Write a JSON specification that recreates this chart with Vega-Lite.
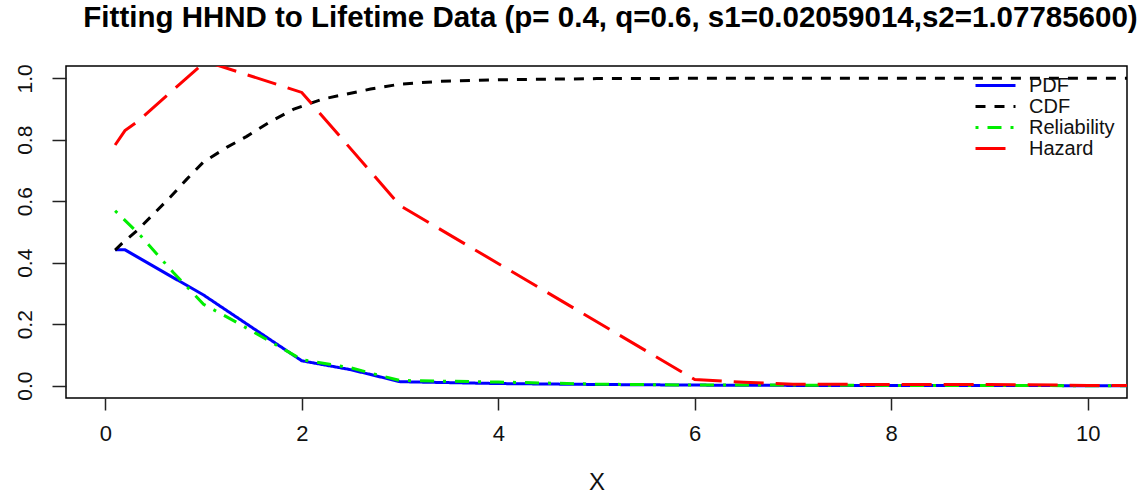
{
  "$schema": "https://vega.github.io/schema/vega-lite/v6.json",
  "width": 1061,
  "height": 332,
  "autosize": {"type": "none"},
  "padding": {"left": 66, "top": 66, "right": 11, "bottom": 96},
  "background": "white",
  "title": {
    "text": "Fitting HHND to Lifetime Data (p= 0.4, q=0.6, s1=0.02059014,s2=1.07785600)",
    "font": "Liberation Sans",
    "fontSize": 29.5,
    "fontWeight": "bold",
    "color": "black",
    "anchor": "middle",
    "frame": "group",
    "dx": 14,
    "offset": 30
  },
  "config": {
    "view": {"stroke": "black", "strokeWidth": 1.5},
    "axis": {
      "grid": false,
      "domain": false,
      "tickColor": "#222",
      "tickWidth": 1.5,
      "labelColor": "#111",
      "labelFont": "Liberation Sans",
      "titleFont": "Liberation Sans",
      "titleColor": "#111",
      "titleFontWeight": "normal"
    }
  },
  "data": {
    "values": [
      {"s": "PDF", "x": 0.1, "y": 0.442},
      {"s": "PDF", "x": 0.2, "y": 0.442},
      {"s": "PDF", "x": 1.0, "y": 0.295},
      {"s": "PDF", "x": 2.0, "y": 0.081},
      {"s": "PDF", "x": 2.5, "y": 0.052},
      {"s": "PDF", "x": 3.0, "y": 0.013},
      {"s": "PDF", "x": 4.0, "y": 0.007},
      {"s": "PDF", "x": 5.0, "y": 0.004},
      {"s": "PDF", "x": 6.0, "y": 0.002},
      {"s": "PDF", "x": 7.0, "y": 0.001},
      {"s": "PDF", "x": 8.0, "y": 0.001},
      {"s": "PDF", "x": 9.0, "y": 0.001},
      {"s": "PDF", "x": 10.0, "y": 0.0},
      {"s": "PDF", "x": 10.4, "y": 0.0},
      {"s": "CDF", "x": 0.1, "y": 0.441},
      {"s": "CDF", "x": 0.17, "y": 0.463},
      {"s": "CDF", "x": 0.32, "y": 0.504},
      {"s": "CDF", "x": 0.49, "y": 0.558},
      {"s": "CDF", "x": 0.66, "y": 0.613},
      {"s": "CDF", "x": 0.83, "y": 0.672},
      {"s": "CDF", "x": 1.0, "y": 0.728},
      {"s": "CDF", "x": 1.24, "y": 0.776},
      {"s": "CDF", "x": 1.44, "y": 0.811},
      {"s": "CDF", "x": 1.68, "y": 0.859},
      {"s": "CDF", "x": 1.92, "y": 0.9},
      {"s": "CDF", "x": 2.22, "y": 0.933},
      {"s": "CDF", "x": 2.46, "y": 0.949},
      {"s": "CDF", "x": 2.7, "y": 0.965},
      {"s": "CDF", "x": 3.0, "y": 0.981},
      {"s": "CDF", "x": 3.4, "y": 0.99},
      {"s": "CDF", "x": 4.0, "y": 0.995},
      {"s": "CDF", "x": 5.0, "y": 0.999},
      {"s": "CDF", "x": 6.0, "y": 1.0},
      {"s": "CDF", "x": 7.0, "y": 1.0},
      {"s": "CDF", "x": 8.0, "y": 1.0},
      {"s": "CDF", "x": 9.0, "y": 1.0},
      {"s": "CDF", "x": 10.0, "y": 1.0},
      {"s": "CDF", "x": 10.4, "y": 1.0},
      {"s": "Reliability", "x": 0.1, "y": 0.569},
      {"s": "Reliability", "x": 0.36, "y": 0.488},
      {"s": "Reliability", "x": 0.69, "y": 0.369},
      {"s": "Reliability", "x": 1.0, "y": 0.265},
      {"s": "Reliability", "x": 1.31, "y": 0.211},
      {"s": "Reliability", "x": 2.0, "y": 0.085},
      {"s": "Reliability", "x": 2.5, "y": 0.058},
      {"s": "Reliability", "x": 2.8, "y": 0.033},
      {"s": "Reliability", "x": 3.0, "y": 0.017},
      {"s": "Reliability", "x": 4.0, "y": 0.012},
      {"s": "Reliability", "x": 5.0, "y": 0.005},
      {"s": "Reliability", "x": 6.0, "y": 0.002},
      {"s": "Reliability", "x": 7.0, "y": 0.002},
      {"s": "Reliability", "x": 8.0, "y": 0.001},
      {"s": "Reliability", "x": 9.0, "y": 0.001},
      {"s": "Reliability", "x": 10.0, "y": 0.0},
      {"s": "Reliability", "x": 10.4, "y": 0.0},
      {"s": "Hazard", "x": 0.1, "y": 0.783},
      {"s": "Hazard", "x": 0.2, "y": 0.83},
      {"s": "Hazard", "x": 0.32, "y": 0.857},
      {"s": "Hazard", "x": 1.02, "y": 1.055},
      {"s": "Hazard", "x": 2.0, "y": 0.954},
      {"s": "Hazard", "x": 3.0, "y": 0.586},
      {"s": "Hazard", "x": 6.0, "y": 0.02},
      {"s": "Hazard", "x": 6.5, "y": 0.011},
      {"s": "Hazard", "x": 7.0, "y": 0.005},
      {"s": "Hazard", "x": 8.0, "y": 0.004},
      {"s": "Hazard", "x": 9.0, "y": 0.004},
      {"s": "Hazard", "x": 10.0, "y": 0.001},
      {"s": "Hazard", "x": 10.4, "y": 0.001}
    ]
  },
  "encoding": {
    "x": {
      "field": "x",
      "type": "quantitative",
      "scale": {"domain": [-0.4, 10.4], "nice": false, "zero": false},
      "axis": {
        "values": [0, 2, 4, 6, 8, 10],
        "format": "d",
        "title": "X",
        "tickSize": 12,
        "labelFontSize": 22,
        "labelPadding": 13,
        "titleFontSize": 24,
        "titlePadding": 26
      }
    },
    "y": {
      "field": "y",
      "type": "quantitative",
      "scale": {"domain": [-0.04, 1.04], "nice": false, "zero": false},
      "axis": {
        "values": [0, 0.2, 0.4, 0.6, 0.8, 1.0],
        "format": ".1f",
        "title": null,
        "tickSize": 14,
        "labelFontSize": 21,
        "labelAngle": 270,
        "labelAlign": "center",
        "labelBaseline": "alphabetic",
        "labelPadding": 21
      }
    },
    "color": {
      "field": "s",
      "type": "nominal",
      "scale": {
        "domain": ["PDF", "CDF", "Reliability", "Hazard"],
        "range": ["#0000ff", "#000000", "#00ee00", "#ff0000"]
      },
      "legend": {
        "title": null,
        "orient": "none",
        "legendX": 908,
        "legendY": 10,
        "symbolType": "stroke",
        "symbolSize": 1600,
        "symbolStrokeWidth": 3.5,
        "labelFont": "Liberation Sans",
        "labelFontSize": 20,
        "labelColor": "#111",
        "labelOffset": 12,
        "clipHeight": 19,
        "rowPadding": 0,
        "padding": 0
      }
    },
    "strokeDash": {
      "field": "s",
      "type": "nominal",
      "scale": {
        "domain": ["PDF", "CDF", "Reliability", "Hazard"],
        "range": [[1, 0], [10, 9], [3, 9, 14, 9], [30, 12]]
      },
      "legend": {
        "title": null,
        "orient": "none",
        "legendX": 908,
        "legendY": 10,
        "symbolType": "stroke",
        "symbolSize": 1600,
        "symbolStrokeWidth": 3.5,
        "labelFont": "Liberation Sans",
        "labelFontSize": 20,
        "labelColor": "#111",
        "labelOffset": 12,
        "clipHeight": 19,
        "rowPadding": 0,
        "padding": 0
      }
    },
    "strokeWidth": {
      "field": "s",
      "type": "nominal",
      "scale": {
        "domain": ["PDF", "CDF", "Reliability", "Hazard"],
        "range": [3, 3, 4.5, 4.5]
      },
      "legend": null
    }
  },
  "layer": [
    {"transform": [{"filter": "datum.s === 'PDF'"}], "mark": {"type": "line", "clip": true}},
    {"transform": [{"filter": "datum.s === 'CDF'"}], "mark": {"type": "line", "clip": true}},
    {"transform": [{"filter": "datum.s === 'Reliability'"}], "mark": {"type": "line", "clip": true}},
    {"transform": [{"filter": "datum.s === 'Hazard'"}], "mark": {"type": "line", "clip": true}}
  ]
}
